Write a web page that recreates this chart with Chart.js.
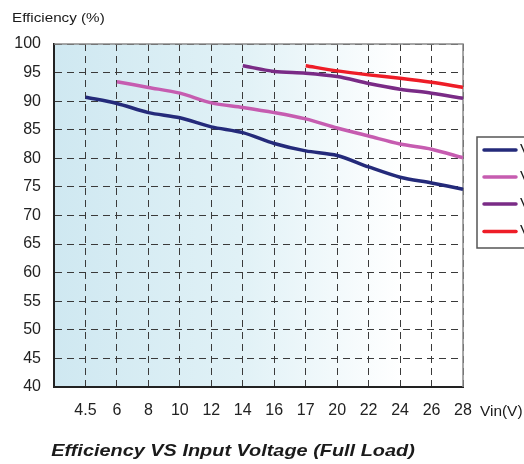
<!DOCTYPE html>
<html>
<head>
<meta charset="utf-8">
<script src="https://cdn.jsdelivr.net/npm/chart.js@4/dist/chart.umd.min.js"></script>
<style>
  html, body { margin: 0; padding: 0; background: #fff; }
  #wrap { width: 524px; height: 464px; }
</style>
</head>
<body>
<div id="wrap"><canvas id="effchart" width="524" height="464"></canvas></div>
<script>
// Vin categories (first slot is the empty left edge of the plot)
const vinLabels = ["", "4.5", "6", "8", "10", "12", "14", "16", "17", "20", "22", "24", "26", "28"];

// Efficiency (%) per output
const effA = [null, 90.7, 89.6, 88.0, 87.1, 85.5, 84.5, 82.6, 81.3, 80.5, 78.5, 76.7, 75.7, 74.6];
const effB = [null, null, 93.4, 92.4, 91.4, 89.7, 88.9, 88.0, 86.9, 85.3, 83.9, 82.5, 81.6, 80.1];
const effC = [null, null, null, null, null, null, 96.2, 95.2, 94.9, 94.3, 93.1, 92.1, 91.4, 90.5];
const effD = [null, null, null, null, null, null, null, null, 96.2, 95.3, 94.6, 94.0, 93.3, 92.4];

const seriesNames = ["Vo=3.3V", "Vo=5V", "Vo=12V", "Vo=15V"];
const seriesColors = ["#242a7a", "#c65cb0", "#7a2b86", "#ee1d27"];

const yTicks = [40, 45, 50, 55, 60, 65, 70, 75, 80, 85, 90, 95, 100];

const FONT = "'Liberation Sans', Arial, sans-serif";

// text a bit wider than the font, like the reference
function wideText(ctx, text, x, y, sx, align) {
  const w = ctx.measureText(text).width * sx;
  let left = x;
  if (align === "center") left = x - w / 2;
  ctx.save();
  ctx.textAlign = "left";
  ctx.translate(left, y);
  ctx.scale(sx, 1);
  ctx.fillText(text, 0, 0);
  ctx.restore();
}

// background gradient + top/right frame + legend + texts
const decorPlugin = {
  id: "decor",
  beforeDraw(chart) {
    const { ctx, chartArea: a } = chart;
    const g = ctx.createLinearGradient(a.left, 0, a.right, 0);
    g.addColorStop(0, "#cfe8f1");
    g.addColorStop(0.45, "#e0f1f6");
    g.addColorStop(0.85, "#ffffff");
    g.addColorStop(1, "#ffffff");
    ctx.save();
    ctx.fillStyle = g;
    ctx.fillRect(a.left, a.top, a.right - a.left, a.bottom - a.top);
    ctx.restore();
  },
  beforeDatasetsDraw(chart) {
    const { ctx, chartArea: a } = chart;
    ctx.save();
    ctx.strokeStyle = "#8a8a8a";
    ctx.lineWidth = 1.5;
    ctx.beginPath();
    ctx.moveTo(a.left, a.top);
    ctx.lineTo(a.right, a.top);
    ctx.lineTo(a.right, a.bottom);
    ctx.stroke();
    ctx.restore();
  },
  afterDraw(chart) {
    const { ctx } = chart;
    ctx.save();
    ctx.fillStyle = "#1a1a1a";
    ctx.textBaseline = "middle";

    // y axis title
    ctx.font = "13px " + FONT;
    wideText(ctx, "Efficiency (%)", 12, 18, 1.17, "left");

    // x axis unit
    ctx.font = "14px " + FONT;
    wideText(ctx, "Vin(V)", 480, 412, 1.1, "left");

    // bottom title
    ctx.font = "italic bold 17px " + FONT;
    wideText(ctx, "Efficiency VS Input Voltage (Full Load)", 233, 451, 1.17, "center");

    // legend box, runs off the right edge like the reference
    ctx.fillStyle = "#ffffff";
    ctx.fillRect(477, 137, 120, 111);
    ctx.strokeStyle = "#555";
    ctx.lineWidth = 1.5;
    ctx.strokeRect(477, 137, 120, 111);
    const rows = [150, 177, 204, 231.5];
    chart.data.datasets.forEach((ds, i) => {
      ctx.strokeStyle = ds.borderColor;
      ctx.lineWidth = 3.5;
      ctx.lineCap = "round";
      ctx.beginPath();
      ctx.moveTo(484, rows[i]);
      ctx.lineTo(516, rows[i]);
      ctx.stroke();
      ctx.fillStyle = "#1a1a1a";
      ctx.font = "14px " + FONT;
      wideText(ctx, ds.label, 520, rows[i], 1.1, "left");
    });
    ctx.restore();
  },
};

const datasets = [effA, effB, effC, effD].map((vals, i) => ({
  label: seriesNames[i],
  data: vals,
  borderColor: seriesColors[i],
  backgroundColor: seriesColors[i],
  borderWidth: 3.5,
  pointRadius: 0,
  tension: 0.3,
  spanGaps: false,
  fill: false,
}));

new Chart(document.getElementById("effchart").getContext("2d"), {
  type: "line",
  data: { labels: vinLabels, datasets: datasets },
  plugins: [decorPlugin],
  options: {
    responsive: false,
    animation: false,
    layout: { padding: { top: 44, right: 61, left: 0, bottom: 0 } },
    plugins: {
      legend: { display: false },
      tooltip: { enabled: false },
    },
    scales: {
      x: {
        type: "category",
        offset: false,
        afterFit(scale) { scale.height = 77; },
        grid: {
          color: "#3a3a3a",
          lineWidth: 1,
          drawTicks: false,
        },
        border: { display: true, color: "#222", width: 2, dash: [7, 5] },
        ticks: {
          color: "#222",
          font: { family: FONT, size: 16 },
          padding: 14,
          maxRotation: 0,
          autoSkip: false,
        },
      },
      y: {
        min: 40,
        max: 100,
        afterFit(scale) { scale.width = 54; },
        afterBuildTicks(scale) { scale.ticks = yTicks.map((v) => ({ value: v })); },
        grid: {
          color: "#3a3a3a",
          lineWidth: 1,
          drawTicks: false,
        },
        border: { display: true, color: "#222", width: 2, dash: [7, 5] },
        ticks: {
          color: "#222",
          font: { family: FONT, size: 16 },
          padding: 13,
        },
      },
    },
  },
});
</script>
</body>
</html>
